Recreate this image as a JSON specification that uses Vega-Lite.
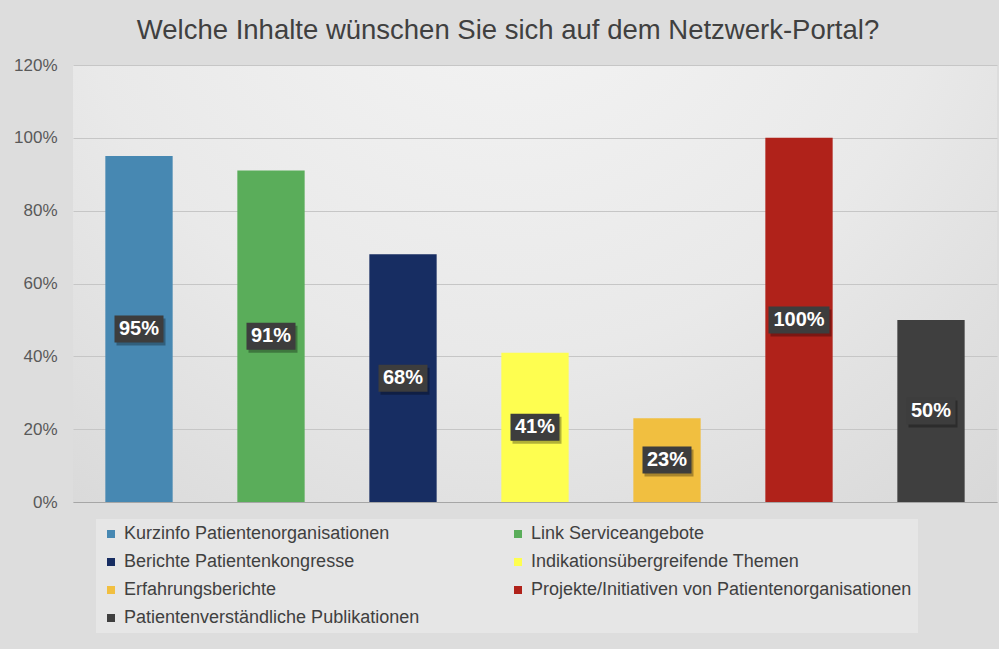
{
  "$schema": "https://vega.github.io/schema/vega-lite/v6.json",
  "autosize": "none",
  "width": 924,
  "height": 437,
  "padding": {"left": 73, "top": 65, "right": 2, "bottom": 147},
  "background": "#dddddd",
  "config": {
    "font": "Liberation Sans",
    "view": {
      "stroke": null,
      "fill": {"gradient": "radial", "x1": 0.47, "y1": 0.1, "r1": 0, "x2": 0.47, "y2": 0.1, "r2": 0.95,
        "stops": [{"offset": 0, "color": "#f5f5f5"}, {"offset": 0.5, "color": "#e9e9e9"}, {"offset": 1, "color": "#d2d2d2"}]}
    }
  },
  "title": {
    "text": "Welche Inhalte wünschen Sie sich auf dem Netzwerk-Portal?",
    "fontSize": 27.5,
    "fontWeight": "normal",
    "color": "#404040",
    "anchor": "middle",
    "frame": "group",
    "dx": -27,
    "offset": 12
  },
  "data": {
    "values": [
      {"category": "Kurzinfo Patientenorganisationen", "value": 0.95},
      {"category": "Link Serviceangebote", "value": 0.91},
      {"category": "Berichte Patientenkongresse", "value": 0.68},
      {"category": "Indikationsübergreifende Themen", "value": 0.41},
      {"category": "Erfahrungsberichte", "value": 0.23},
      {"category": "Projekte/Initiativen von Patientenorganisationen", "value": 1.0},
      {"category": "Patientenverständliche Publikationen", "value": 0.5}
    ]
  },
  "encoding": {
    "x": {
      "field": "category", "type": "nominal", "sort": null,
      "scale": {"paddingInner": 0.49, "paddingOuter": 0.245},
      "axis": {"labels": false, "ticks": false, "title": null, "domainColor": "#a6a6a6", "domainWidth": 1.2}
    }
  },
  "layer": [
    {
      "mark": {"type": "bar"},
      "encoding": {
        "y": {
          "field": "value", "type": "quantitative",
          "scale": {"domain": [0, 1.2], "nice": false},
          "axis": {
            "values": [0, 0.2, 0.4, 0.6, 0.8, 1.0, 1.2],
            "format": ".0%", "title": null, "domain": false, "ticks": false,
            "labelFontSize": 17, "labelColor": "#595959", "labelPadding": 16,
            "gridColor": "#c6c6c6", "gridWidth": 1.2
          }
        },
        "color": {
          "field": "category", "type": "nominal", "sort": null,
          "scale": {
            "domain": [
              "Kurzinfo Patientenorganisationen",
              "Link Serviceangebote",
              "Berichte Patientenkongresse",
              "Indikationsübergreifende Themen",
              "Erfahrungsberichte",
              "Projekte/Initiativen von Patientenorganisationen",
              "Patientenverständliche Publikationen"
            ],
            "range": ["#4788b2", "#5aad5a", "#172d62", "#fefe50", "#f1bf40", "#b0221a", "#3f3f3f"]
          },
          "legend": {
            "title": null,
            "orient": "none",
            "legendX": 23,
            "legendY": 454,
            "direction": "horizontal",
            "columns": 2,
            "columnPadding": 89,
            "rowPadding": 10,
            "padding": 6,
            "fillColor": "#e6e6e6",
            "symbolType": "square",
            "symbolSize": 64,
            "symbolStrokeWidth": 0,
            "labelFontSize": 18,
            "labelColor": "#404040",
            "labelOffset": 4,
            "labelLimit": 500
          }
        }
      }
    },
    {
      "encoding": {
        "y": {
          "field": "value", "type": "quantitative",
          "scale": {"domain": [0, 2.4], "nice": false},
          "axis": null
        }
      },
      "layer": [
        {
          "mark": {"type": "point", "filled": true, "color": "#000000", "opacity": 0.3, "xOffset": 2, "yOffset": 3, "size": 2401},
          "encoding": {
            "shape": {
              "condition": {"test": "datum.value >= 1", "value": "M-1.245,-0.551L1.245,-0.551L1.245,0.551L-1.245,0.551Z"},
              "value": "M-1,-0.551L1,-0.551L1,0.551L-1,0.551Z"
            }
          }
        },
        {
          "mark": {"type": "point", "filled": true, "color": "#3d3d3d", "opacity": 1, "size": 2401},
          "encoding": {
            "shape": {
              "condition": {"test": "datum.value >= 1", "value": "M-1.245,-0.551L1.245,-0.551L1.245,0.551L-1.245,0.551Z"},
              "value": "M-1,-0.551L1,-0.551L1,0.551L-1,0.551Z"
            }
          }
        },
        {
          "mark": {"type": "text", "color": "#ffffff", "fontSize": 20, "fontWeight": "bold", "baseline": "middle", "align": "center"},
          "encoding": {
            "text": {"field": "value", "type": "quantitative", "format": ".0%"}
          }
        }
      ]
    }
  ],
  "resolve": {"scale": {"y": "independent"}}
}
